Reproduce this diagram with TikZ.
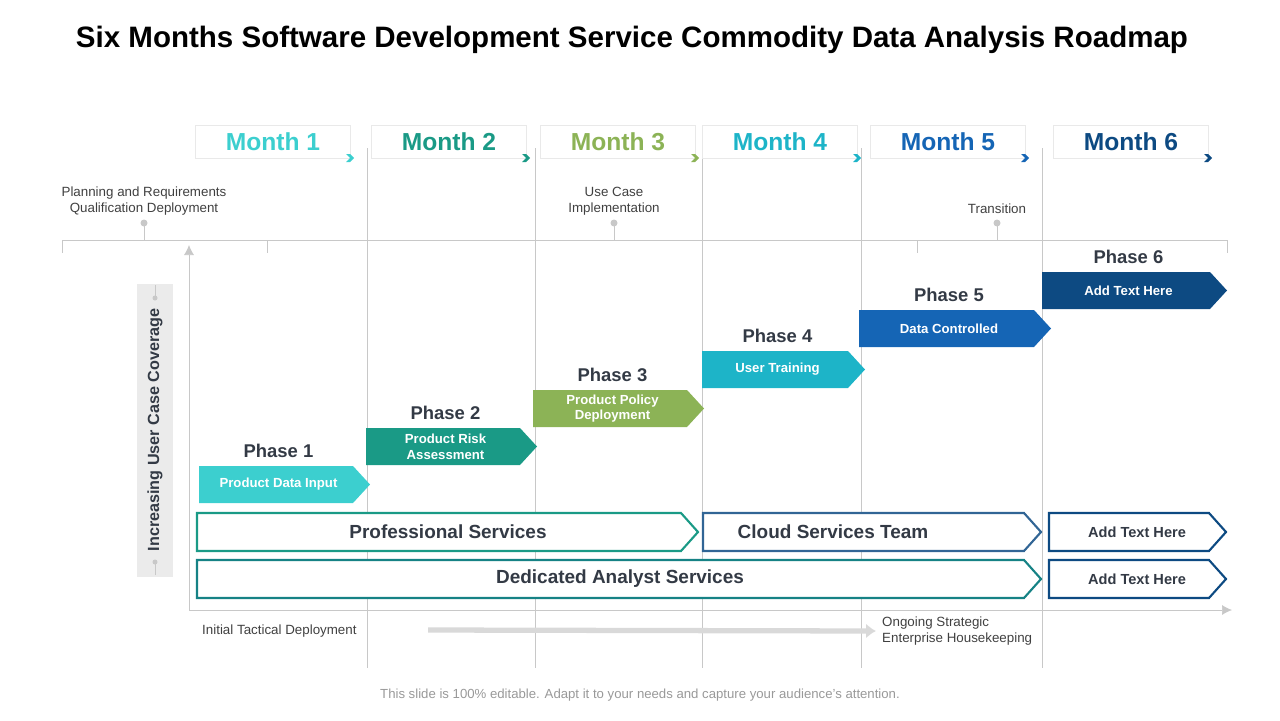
\documentclass[tikz,border=0pt]{standalone}
\usepackage{fontspec}
\setmainfont{Liberation Sans}
\setsansfont{Liberation Sans}
\usetikzlibrary{arrows.meta,calc,positioning}
\definecolor{monA}{HTML}{3CCFCF}
\definecolor{monB}{HTML}{1A9A86}
\definecolor{monC}{HTML}{8CB356}
\definecolor{monD}{HTML}{1DB4C8}
\definecolor{monE}{HTML}{1565B5}
\definecolor{monF}{HTML}{0D4A82}
\definecolor{grid}{HTML}{C8C8C8}
\definecolor{ink}{HTML}{333A45}
\tikzset{
  month/.style={%
    draw=grid!40, fill=white, minimum width=88pt, minimum height=19pt,
    font=\fontsize{14}{16}\selectfont\bfseries
  },
  phasetag/.style={%
    font=\fontsize{10.5}{12}\selectfont\bfseries, text=ink
  },
  small/.style={%
    font=\fontsize{7.6}{9.2}\selectfont, text=black!75, align=center
  },
  band/.style={%
    font=\fontsize{10.8}{13}\selectfont\bfseries, text=ink
  },
  arrowG/.style={%
    -{Latex[length=2mm,width=2mm]}
  }%
}
% chevron box: x1, x2, ytop, ybot, draw options
\newcommand{\chev}[5]{%
  \path[#5] (#1,#3) -- ({#2-17},#3) -- (#2,{(#3+#4)/2}) -- ({#2-17},#4)
    -- (#1,#4) -- cycle;}

\begin{document}
\begin{tikzpicture}[x=0.02cm,y=-0.02cm,font=\sffamily]
\useasboundingbox (0,0) rectangle (1280,720);

% Title
\node[font=\fontsize{16.8}{20}\selectfont\bfseries] (title) at (632,40)
  {Six Months Software Development Service Commodity Data Analysis Roadmap};

% Vertical month dividers
\foreach \x in {367,535,702,861,1042}
  \draw[grid, thin] (\x,148) -- (\x,668);

% Month headers
\foreach \x/\c/\t [count=\i] in {273/monA/Month 1,449/monB/Month 2,618/monC/Month 3,
    780/monD/Month 4,948/monE/Month 5,1131/monF/Month 6} {
  \node[month, text=\c] (month\i) at (\x,142) {\t};
  \coordinate (tick\i) at ($(\x,158)+(78,0)$);
  \fill[\c] ($(tick\i)+(-5,-4)$) -- ($(tick\i)+(-1,-4)$) -- ($(tick\i)+(3,0)$)
    -- ($(tick\i)+(-1,4)$) -- ($(tick\i)+(-5,4)$) -- ($(tick\i)+(-1,0)$) -- cycle;
}

% Top timeline
\draw[grid] (62,240) -- (1227,240);
\foreach \x in {62,267,917,1227} \draw[grid] (\x,240) -- (\x,253);
\foreach \x/\y/\t [count=\i] in {144/201/{Planning and Requirements\\Qualification Deployment},
    614/201/{Use Case\\Implementation}, 997/209/{Transition}} {
  \node[small] (milestone\i) at (\x,\y) {\t};
  \draw[grid] (\x,240) -- (\x,223);
  \fill[grid] (\x,223) circle (3.5);
}

% Axes
\draw[grid, arrowG] (189,610) -- (189,245);
\draw[grid, arrowG] (189,610) -- (1232,610);
\fill[black!8] (137,284) rectangle (173,577);
\node[rotate=90, font=\fontsize{9.2}{11}\selectfont\bfseries, text=ink] (coverage)
  at (155,430) {Increasing User Case Coverage};
\draw[grid] (155,285) -- (155,298); \fill[grid] (155,298) circle (2.5);
\draw[grid] (155,575) -- (155,562); \fill[grid] (155,562) circle (2.5);

% Phase arrows
\foreach \a/\b/\t/\c/\txt [count=\i] in {
    199/370/466/monA/{Product Data Input},
    366/537/428/monB/{Product Risk\\Assessment},
    533/704/390/monC/{Product Policy\\Deployment},
    702/865/351/monD/{User Training},
    859/1051/310/monE/{Data Controlled},
    1042/1227/272/monF/{Add Text Here}} {
  \chev{\a}{\b}{\t}{\t+37}{fill=\c}
  \node[text=white, font=\fontsize{7.5}{9}\selectfont\bfseries, align=center]
    (phase\i) at ({(\a+\b)/2-6},\t+18.5) {\txt};
  \node[phasetag] (phaselabel\i) at ({(\a+\b)/2-6},\t-15) {Phase \i};
}

% Service bands
\chev{197}{698}{513}{551}{draw=monB, line width=1.2pt, fill=white}
\chev{703}{1041}{513}{551}{draw=monF!85, line width=1.2pt, fill=white}
\chev{1049}{1226}{513}{551}{draw=monF, line width=1.2pt, fill=white}
\chev{197}{1041}{560}{598}{draw=monB!70!monF, line width=1.2pt, fill=white}
\chev{1049}{1226}{560}{598}{draw=monF, line width=1.2pt, fill=white}
\node[band] (profserv) at (448,532) {Professional Services};
\node[band] (cloudserv) at (833,532) {Cloud Services Team};
\node[band] (dedserv) at (620,579) {Dedicated Analyst Services};
\node[band, font=\fontsize{8.3}{10}\selectfont\bfseries] (addA) at (1137,532)
  {Add Text Here};
\node[band, font=\fontsize{8.3}{10}\selectfont\bfseries] (addB) at (1137,579)
  {Add Text Here};

% Bottom deployment arrow
\node[small, anchor=west] (initial) at (196,631) {Initial Tactical Deployment};
\node[small, anchor=west, align=left] (ongoing) at (876,631)
  {Ongoing Strategic\\Enterprise Housekeeping};
\coordinate (gstart) at (428,630);
\draw[black!15, line width=3pt, -{Latex[length=2mm,width=3mm]}] (gstart) -- (ongoing.west);

% Footer
\node[font=\fontsize{7.5}{9}\selectfont, text=black!40] (footer) at (640,695)
  {This slide is 100\% editable. Adapt it to your needs and capture your audience's attention.};
\end{tikzpicture}
\end{document}
